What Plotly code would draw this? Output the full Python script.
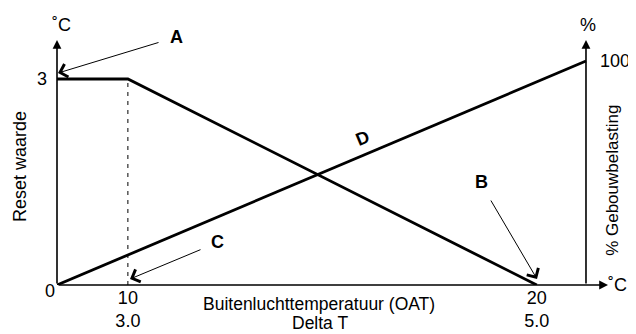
import plotly.graph_objects as go

# Schematic x positions (diagram units, 100 = right axis)
x_pos = [0, 13.4, 90.7]
oat_ticks = ["0", "10", "20"]
delta_t_ticks = ["", "3.0", "5.0"]

# Reset waarde (left axis, ˚C)
reset_x = [0, 13.4, 90.7]
reset_y = [3, 3, 0]

# Gebouwbelasting (right axis, %)
load_x = [0, 100]
load_y = [0, 100]

FONT = "Liberation Sans, Arial, sans-serif"
X_MAX = 104.16
Y_MAX = 3.568
Y2_MAX = 109.4

fig = go.Figure()
fig.add_trace(go.Scatter(x=[x_pos[1], x_pos[1]], y=[0, 3], mode="lines",
                         line=dict(color="black", width=1, dash="4px,5px"),
                         hoverinfo="skip"))
fig.add_trace(go.Scatter(x=reset_x, y=reset_y, mode="lines",
                         line=dict(color="black", width=2.8), name="Reset waarde"))
fig.add_trace(go.Scatter(x=load_x, y=load_y, mode="lines", yaxis="y2",
                         line=dict(color="black", width=2.8), name="% Gebouwbelasting"))

ann = []
# axis lines with arrowheads
for x, y, ax, ay, yref in [(0, Y_MAX, 0, 0, "y"), (100, Y2_MAX, 100, 0, "y2"),
                           (X_MAX, 0, 0, 0, "y")]:
    ann.append(dict(x=x, y=y, ax=ax, ay=ay, xref="x", yref=yref, axref="x",
                    ayref=yref, text="", showarrow=True, arrowhead=2,
                    arrowsize=1.1, arrowwidth=1.6, arrowcolor="black"))
# pointer arrows
for x, y, ax, ay in [(0.19, 3.087, 102, -31), (90.74, 0.087, -47, -80),
                     (13.8, 0.087, 72, -30)]:
    ann.append(dict(x=x, y=y, ax=ax, ay=ay, xref="x", yref="y", text="",
                    showarrow=True, arrowhead=4, arrowsize=2.6, arrowwidth=1,
                    arrowcolor="black"))

txt = dict(family=FONT, size=18, color="black")
c = dict(xref="paper", yref="paper", xanchor="center", yanchor="middle",
         showarrow=False)
# letters (paper coords so A above the plot stays visible)
for t, x, y, ang in [("A", 0.216, 1.012, 0), ("B", 0.771, 0.420, 0),
                     ("C", 0.292, 0.176, 0), ("D", 0.555, 0.600, -23)]:
    ann.append(dict(x=x, y=y, text="<b>%s</b>" % t, textangle=ang, font=txt, **c))
# labels
xt = dict(family=FONT, size=17.5, color="black")
ann += [
    dict(x=-0.067, y=0.482, text="Reset waarde", textangle=-90, font=txt, **c),
    dict(x=1.009, y=0.429, text="% Gebouwbelasting", textangle=-90,
         font=dict(family=FONT, size=17, color="black"), **c),
    dict(x=0.475, y=-0.078, text="Buitenluchttemperatuur (OAT)", font=xt, **c),
    dict(x=0.478, y=-0.155, text="Delta T", font=xt, **c),
    dict(x=0.009, y=1.061, text="˚C", font=txt, **c),
    dict(x=0.964, y=1.061, text="%", font=txt, **c),
    dict(x=1.018, y=0, text="˚C", font=txt, **c),
    dict(x=-0.0127, y=-0.0245, text=oat_ticks[0], font=txt, **c),
]

# page body has an 8px margin, so margins are shifted by 8px
fig.update_layout(
    width=636, height=334,
    margin=dict(l=49, r=36, t=32, b=57, autoexpand=False),
    paper_bgcolor="white", plot_bgcolor="white",
    showlegend=False,
    font=dict(family=FONT, size=18, color="black"),
    xaxis=dict(range=[0, X_MAX], showgrid=False, zeroline=False, showline=False,
               tickvals=x_pos[1:],
               ticktext=["%s<br>%s" % (a, b) for a, b in zip(oat_ticks[1:], delta_t_ticks[1:])],
               ticks="", automargin=False),
    yaxis=dict(range=[0, Y_MAX], showgrid=False, zeroline=False, showline=False,
               tickvals=[3], ticktext=["3"], ticks="", ticklabelstandoff=9,
               automargin=False),
    yaxis2=dict(range=[0, Y2_MAX], overlaying="y", anchor="free", position=0.96,
                side="right", showgrid=False, zeroline=False, showline=False,
                tickvals=[100], ticktext=["100"], ticks="", ticklabelstandoff=13,
                automargin=False),
    annotations=ann,
)

fig.write_html("out.html")
